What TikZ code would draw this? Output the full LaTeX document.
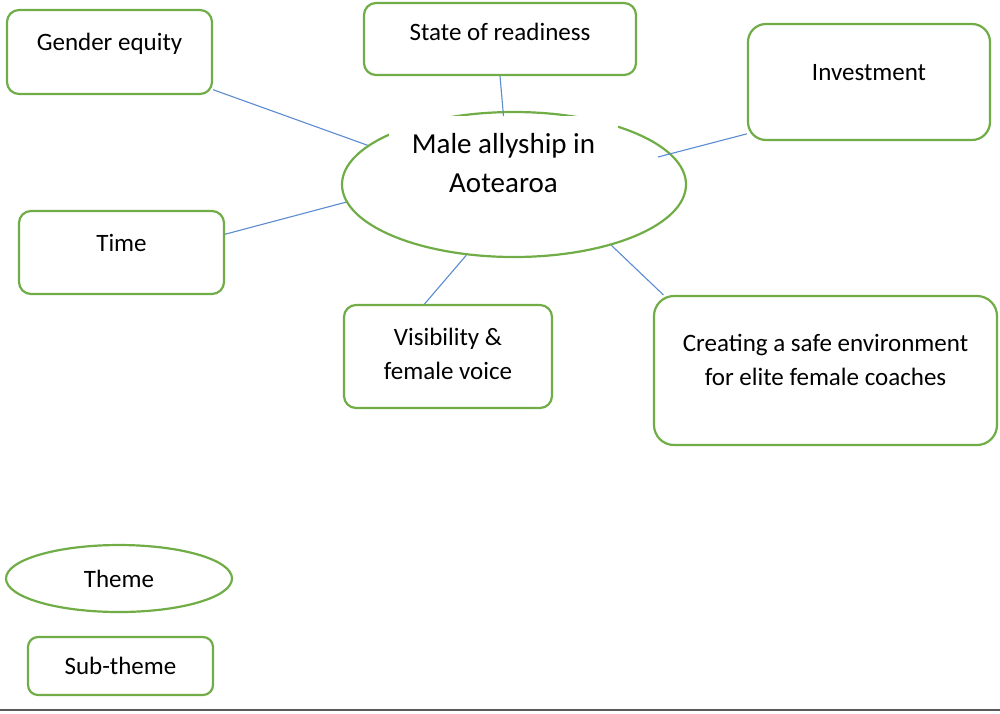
\documentclass[tikz,border=0pt]{standalone}
\usepackage{fontspec}
\setmainfont{Carlito}
\usetikzlibrary{shapes.geometric}
\definecolor{themegreen}{RGB}{112,173,71}
\definecolor{linkblue}{RGB}{91,139,208}

\begin{document}
\begin{tikzpicture}[x=1pt, y=-1pt,
    subtheme/.style={draw=themegreen, line width=2.2pt, rounded corners=12pt,
        fill=white, align=center, inner sep=0pt,
        font=\fontsize{25}{34}\selectfont},
    raised/.style={text height=18pt, text depth=21pt},
    theme/.style={ellipse, draw=themegreen, line width=2.2pt, inner sep=0pt},
    link/.style={color=linkblue, line width=1.1pt}]
    \useasboundingbox (0,0) rectangle (1000,713);

    % main theme
    \node[theme, minimum width=344pt, minimum height=145pt] (main) at (514,184.5) {};
    \node[fill=white, minimum width=229pt, inner xsep=0pt, inner ysep=17.5pt, anchor=north,
        align=center, font=\fontsize{29}{38.5}\selectfont] (maintext) at (503.5,116)
        {Male allyship in\\Aotearoa};

    % sub-themes
    \node[subtheme, raised, minimum width=205pt, minimum height=84pt] (gender) at (109.5,52) {Gender equity};
    \node[subtheme, raised, text depth=16pt, minimum width=272pt, minimum height=72pt] (state) at (500,39) {State of readiness};
    \node[subtheme, raised, rounded corners=18pt, minimum width=242pt, minimum height=116pt] (invest) at (869,82) {Investment};
    \node[subtheme, raised, minimum width=205pt, minimum height=83pt] (timebox) at (121.5,252.5) {Time};
    \node[subtheme, raised, text depth=8pt, minimum width=208pt, minimum height=103pt] (visib) at (448,356.5)
        {\begin{tabular}{@{}c@{}}Visibility \&\\female voice\end{tabular}};
    \node[subtheme, raised, text depth=24pt, rounded corners=20pt, minimum width=343pt, minimum height=149pt] (safe) at (825.5,370.5)
        {\begin{tabular}{@{}c@{}}Creating a safe environment\\for elite female coaches\end{tabular}};

    \coordinate (investend) at (658,157);
    \draw[link] (gender.-20) -- (main.165.6);
    \draw[link] (state.south) -- (maintext.north);
    \draw[link] (invest.203) -- (investend);
    \draw[link] (timebox.10) -- (main.186.8);
    \draw[link] (visib.114) -- (main.236.5);
    \draw[link] (safe.155) -- (main.328);

    % legend
    \node[theme, minimum width=226pt, minimum height=67pt, font=\fontsize{25}{34}\selectfont] (legtheme) at (119,578.5) {Theme};
    \node[subtheme, rounded corners=10pt, minimum width=185pt, minimum height=58pt] (legsub) at (120.5,666) {Sub-theme};

    \draw[color=black!65, line width=1.8pt] (0,710) -- (1000,710);
\end{tikzpicture}
\end{document}
